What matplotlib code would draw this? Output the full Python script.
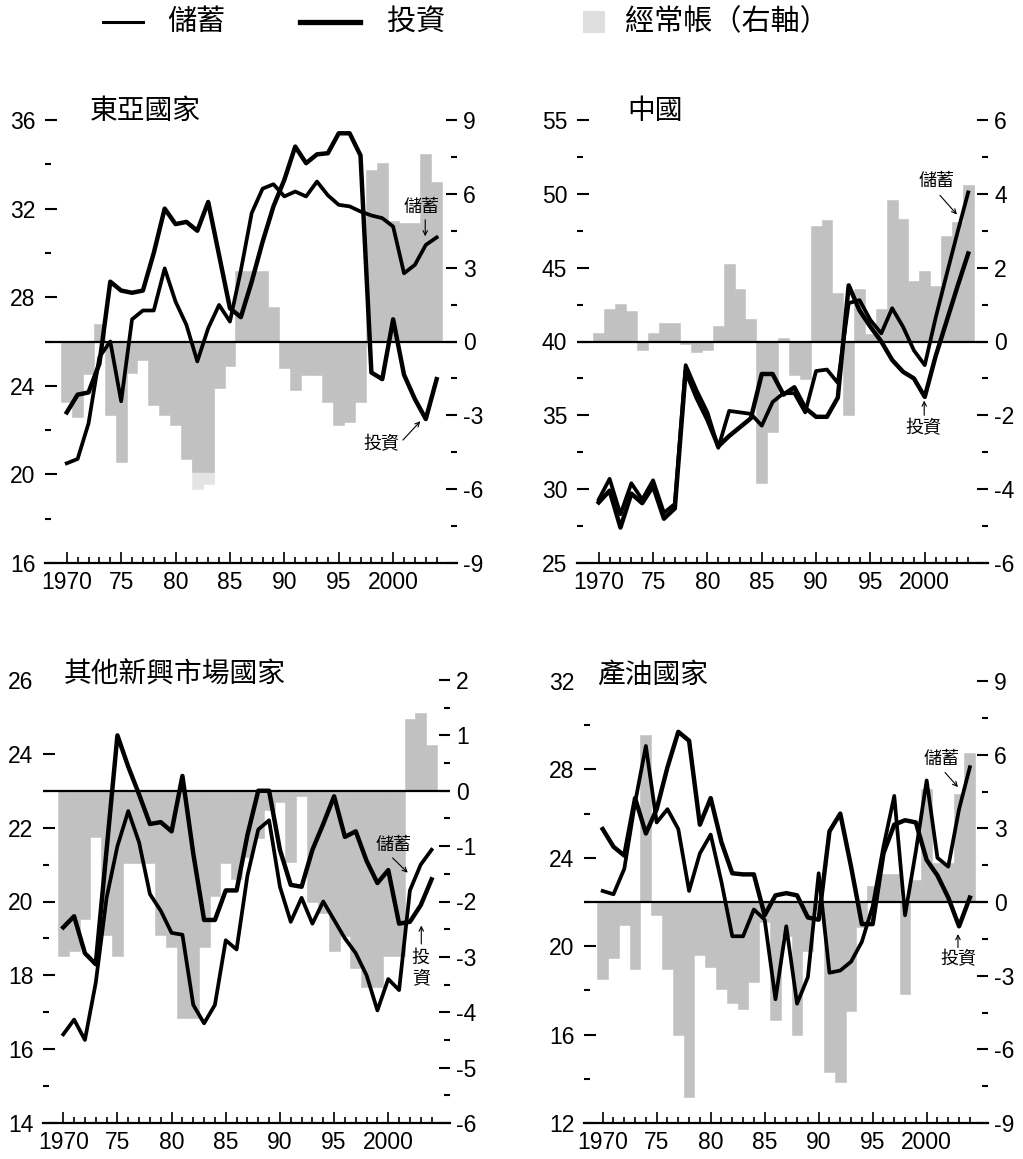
import matplotlib
matplotlib.use("Agg")
import matplotlib.pyplot as plt
from matplotlib.lines import Line2D
from matplotlib.patches import Rectangle
import numpy as np

plt.rcParams["axes.unicode_minus"] = False

CJK = ["Noto Sans CJK TC", "DejaVu Sans"]
NUM = ["Liberation Sans", "DejaVu Sans"]
BAR = "#c1c1c1"
BAR_LIGHT = "#e4e4e4"

years = np.arange(1970, 2005)

# ---- East Asia ----
ea_saving = [20.5, 20.7, 22.3, 25.3, 26.0, 23.3, 27.0, 27.4, 27.4, 29.3,
             27.8, 26.75, 25.1, 26.6, 27.65, 26.9, 29.2, 31.8, 32.9, 33.1,
             32.55, 32.77, 32.55, 33.22, 32.6, 32.17, 32.1, 31.87, 31.69, 31.57,
             31.19, 29.08, 29.46, 30.36, 30.7]
ea_invest = [22.8, 23.6, 23.7, 25.0, 28.7, 28.3, 28.2, 28.3, 30.0, 32.0,
             31.3, 31.4, 31.0, 32.3, 29.9, 27.5, 27.1, 28.7, 30.5, 32.1,
             33.3, 34.8, 34.05, 34.45, 34.5, 35.4, 35.4, 34.4, 24.6, 24.3,
             27.0, 24.5, 23.4, 22.5, 24.3]
ea_ca = [-2.47, -3.08, -1.31, 0.72, -2.98, -4.88, -1.29, -0.77, -2.6, -2.98,
         -3.39, -4.77, -5.31, -5.31, -1.88, -1.0, 2.85, 2.85, 2.85, 1.4,
         -1.08, -1.96, -1.38, -1.38, -2.47, -3.39, -3.28, -2.47, 6.95, 7.25,
         4.9, 4.8, 4.8, 7.6, 6.5]
# lighter extension below the 1982-83 bars
ea_ca_ext_years = [1982, 1983]
ea_ca_ext = [-6.0, -5.8]

# ---- China ----
cn_saving = [29.3, 30.7, 28.3, 30.4, 29.3, 30.6, 28.4, 29.0, 38.4, 36.7,
             35.2, 32.8, 35.3, 35.2, 35.1, 34.3, 35.9, 36.5, 36.5, 35.2,
             38.0, 38.1, 37.2, 42.6, 42.8, 41.45, 40.55, 42.25, 41.0, 39.4,
             38.4, 41.6, 44.5, 47.35, 50.1]
cn_invest = [29.1, 29.9, 27.4, 29.7, 29.05, 30.2, 28.0, 28.7, 38.0, 36.2,
             34.7, 32.9, 33.6, 34.2, 34.8, 37.8, 37.8, 36.4, 36.9, 35.5,
             34.9, 34.9, 36.2, 43.8, 42.1, 41.0, 40.0, 38.75, 37.95, 37.5,
             36.25, 39.0, 41.35, 43.7, 45.96]
cn_ca = [0.23, 0.89, 1.02, 0.83, -0.23, 0.23, 0.5, 0.5, -0.07, -0.29,
         -0.23, 0.42, 2.1, 1.43, 0.61, -3.84, -2.44, 0.09, -0.9, -1.01,
         3.12, 3.3, 1.31, -2.0, 1.43, 0.2, 0.89, 3.84, 3.32, 1.64,
         1.9, 1.51, 2.85, 3.23, 4.25]

# ---- Other emerging markets ----
em_saving = [16.4, 16.8, 16.25, 17.8, 20.1, 21.5, 22.45, 21.6, 20.2, 19.75,
             19.15, 19.1, 17.2, 16.7, 17.2, 18.95, 18.7, 20.7, 21.95, 22.2,
             20.4, 19.45, 20.1, 19.4, 20.0, 19.5, 19.0, 18.6, 18.0, 17.05,
             17.9, 17.6, 20.3, 21.0, 21.4]
em_invest = [19.3, 19.6, 18.6, 18.3, 21.4, 24.5, 23.65, 22.9, 22.1, 22.15,
             21.9, 23.4, 21.3, 19.5, 19.5, 20.3, 20.3, 21.8, 23.0, 23.0,
             21.4, 20.45, 20.4, 21.4, 22.1, 22.85, 21.75, 21.9, 21.1, 20.5,
             20.85, 19.4, 19.45, 19.9, 20.6]
em_ca = [-2.98, -2.9, -2.32, -0.83, -2.6, -2.98, -1.31, -1.31, -1.31, -2.6,
         -2.82, -4.1, -4.1, -2.82, -1.9, -1.31, -1.6, -1.2, -0.85, -0.35,
         -0.2, -1.28, -0.1, -2.0, -2.2, -2.9, -2.63, -3.2, -3.54, -3.54,
         -2.98, -2.98, 1.3, 1.41, 0.82]

# ---- Oil producers ----
oil_saving = [22.5, 22.35, 23.5, 26.5, 29.06, 25.6, 26.2, 25.3, 22.5, 24.2,
              25.05, 22.9, 20.45, 20.45, 21.66, 21.2, 17.6, 20.9, 17.4, 18.6,
              23.3, 18.8, 18.9, 19.3, 20.2, 21.8, 24.5, 26.8, 21.4, 24.3,
              27.5, 24.0, 23.6, 26.2, 28.1]
oil_invest = [25.3, 24.5, 24.1, 26.7, 25.1, 26.2, 28.1, 29.7, 29.3, 25.5,
              26.7, 24.7, 23.3, 23.25, 23.25, 21.4, 22.3, 22.4, 22.3, 21.3,
              21.2, 25.2, 26.0, 23.6, 21.0, 21.0, 24.2, 25.5, 25.7, 25.6,
              23.9, 23.2, 22.2, 20.9, 22.2]
oil_ca = [-3.12, -2.3, -0.95, -2.72, 6.8, -0.54, -2.72, -5.43, -7.95, -2.17,
          -2.65, -3.53, -4.1, -4.35, -3.26, -0.8, -4.82, -1.4, -5.43, -2.0,
          -0.3, -6.93, -7.34, -4.42, -1.0, 0.65, 1.15, 1.15, -3.74, 0.88,
          4.6, 1.6, 1.6, 4.39, 6.07]

xtick_pos = [1970, 1975, 1980, 1985, 1990, 1995, 2000]
xtick_lab = ["1970", "75", "80", "85", "90", "95", "2000"]

W, H = 1023, 1159
fig = plt.figure(figsize=(W / 100, H / 100), dpi=100)
fig.patch.set_facecolor("white")


def px_axes(left, top, right, bottom):
    return fig.add_axes([left / W, 1 - bottom / H, (right - left) / W, (bottom - top) / H])


def fmt(v):
    return str(int(v)) if float(v).is_integer() else str(v)


def panel(box, xlim, llim, lmaj, lmin, rlim, rmaj, rmin, saving, invest, ca,
          title, title_xy, hide_top_tick=False, extra_bars=None):
    ax = px_axes(*box)
    ax2 = ax.twinx()
    ax.set_zorder(ax2.get_zorder() + 1)
    ax.patch.set_visible(False)

    # current account bars on the right scale
    if extra_bars is not None:
        ax2.bar(extra_bars[0], extra_bars[1], width=1.0, color=BAR_LIGHT,
                edgecolor=BAR_LIGHT, linewidth=0.4, align="center", zorder=0.5)
    ax2.bar(years, ca, width=1.0, color=BAR, edgecolor=BAR, linewidth=0.4,
            align="center", zorder=1)
    ax2.axhline(0, color="black", lw=1.6, zorder=3)

    # saving / investment lines on the left scale
    ax.plot(years, saving, color="black", lw=2.7, solid_joinstyle="round")
    ax.plot(years, invest, color="black", lw=3.2, solid_joinstyle="round")

    ax.set_xlim(*xlim)
    ax.set_ylim(*llim)
    ax2.set_ylim(*rlim)

    for a in (ax, ax2):
        for s in ("left", "right", "top"):
            a.spines[s].set_visible(False)
    ax2.spines["bottom"].set_visible(False)
    ax.spines["bottom"].set_linewidth(1.6)

    ax.set_xticks(xtick_pos)
    ax.set_xticklabels(xtick_lab)
    ax.set_xticks(years, minor=True)
    ax.tick_params(axis="x", which="major", direction="in", length=8, width=1.2,
                   pad=6, labelsize=16.5)
    ax.tick_params(axis="x", which="minor", direction="in", length=4.5, width=1.2)

    ax.set_yticks(lmaj)
    ax.set_yticklabels([fmt(v) for v in lmaj])
    ax.set_yticks(lmin, minor=True)
    ax.tick_params(axis="y", which="major", direction="in", length=8.5, width=1.5,
                   pad=7, labelsize=16.5)
    ax.tick_params(axis="y", which="minor", direction="in", length=4.5, width=1.5)

    ax2.set_yticks(rmaj)
    ax2.set_yticklabels([fmt(v) for v in rmaj])
    ax2.set_yticks(rmin, minor=True)
    ax2.tick_params(axis="y", which="major", direction="in", length=8, width=1.5,
                    pad=4.5, labelsize=16.5)
    ax2.tick_params(axis="y", which="minor", direction="in", length=4.5, width=1.5)

    for lab in ax.get_xticklabels() + ax.get_yticklabels() + ax2.get_yticklabels():
        lab.set_family(NUM)

    if hide_top_tick:
        ax.yaxis.get_major_ticks()[-1].tick1line.set_visible(False)

    ax.text(title_xy[0], title_xy[1], title, family=CJK, fontsize=20,
            ha="left", va="center", clip_on=False)
    return ax


def note(ax, label, text_xy, tail, tip):
    ax.text(text_xy[0], text_xy[1], label, family=CJK, fontsize=13,
            ha="center", va="center", linespacing=1.15)
    ax.annotate("", xy=tip, xytext=tail,
                arrowprops=dict(arrowstyle="->", lw=0.8, color="black",
                                shrinkA=0, shrinkB=0, mutation_scale=8))


# East Asia
ax1 = panel((45, 120, 457, 563), (1968.0, 2005.87), (16, 36),
            [16, 20, 24, 28, 32, 36], [18, 22, 26, 30, 34],
            (-9, 9), [-9, -6, -3, 0, 3, 6, 9], [-7.5, -4.5, -1.5, 1.5, 4.5, 7.5],
            ea_saving, ea_invest, ea_ca, "東亞國家", (1972.1, 36.4),
            extra_bars=(ea_ca_ext_years, ea_ca_ext))
note(ax1, "儲蓄", (2002.6, 32.07), (2002.95, 31.5), (2002.95, 30.75))
note(ax1, "投資", (1998.9, 21.37), (2000.9, 21.55), (2002.5, 22.4))

# China
ax2_ = panel((577, 120, 988, 563), (1968.0, 2005.82), (25, 55),
             [25, 30, 35, 40, 45, 50, 55], [27.5, 32.5, 37.5, 42.5, 47.5, 52.5],
             (-6, 6), [-6, -4, -2, 0, 2, 4, 6], [-5, -3, -1, 1, 3, 5],
             cn_saving, cn_invest, cn_ca, "中國", (1972.6, 55.6))
note(ax2_, "儲蓄", (2001.1, 50.87), (2001.4, 49.9), (2002.96, 48.6))
note(ax2_, "投資", (1999.9, 34.15), (1999.95, 35.0), (1999.95, 36.0))

# Other emerging markets
ax3 = panel((43, 680, 450, 1123), (1968.13, 2005.7), (14, 26),
            [14, 16, 18, 20, 22, 24, 26], [15, 17, 19, 21, 23],
            (-6, 2), [-6, -5, -4, -3, -2, -1, 0, 1, 2],
            [-5.5, -4.5, -3.5, -2.5, -1.5, -0.5, 0.5, 1.5],
            em_saving, em_invest, em_ca, "其他新興市場國家", (1970.0, 26.14),
            hide_top_tick=True)
note(ax3, "儲蓄", (2000.5, 21.53), (2000.4, 21.18), (2001.8, 20.78))
note(ax3, "投\n資", (2003.0, 18.2), (2003.05, 18.85), (2003.05, 19.35))

# Oil producers
ax4 = panel((584, 681, 988, 1123), (1968.27, 2005.68), (12, 32),
            [12, 16, 20, 24, 28, 32], [14, 18, 22, 26, 30],
            (-9, 9), [-9, -6, -3, 0, 3, 6, 9], [-7.5, -4.5, -1.5, 1.5, 4.5, 7.5],
            oil_saving, oil_invest, oil_ca, "產油國家", (1969.5, 32.3),
            hide_top_tick=True)
note(ax4, "儲蓄", (2001.4, 28.45), (2001.7, 27.86), (2002.9, 27.2))
note(ax4, "投資", (2002.9, 19.4), (2002.9, 19.94), (2002.9, 20.55))

# Legend across the top
ly = 1 - 22 / H
fig.add_artist(Line2D([103 / W, 143 / W], [ly, ly], transform=fig.transFigure,
                      color="black", lw=2.2))
fig.text(167 / W, ly, "儲蓄", family=CJK, fontsize=21, va="center", ha="left")
fig.add_artist(Line2D([300 / W, 360 / W], [ly, ly], transform=fig.transFigure,
                      color="black", lw=3.8))
fig.text(387 / W, ly, "投資", family=CJK, fontsize=21, va="center", ha="left")
fig.add_artist(Rectangle((583 / W, 1 - 33 / H), 22 / W, 22 / H,
                         transform=fig.transFigure, facecolor="#dedede",
                         edgecolor="none"))
fig.text(625 / W, ly, "經常帳（右軸）", family=CJK, fontsize=21, va="center", ha="left")

fig.savefig("out.png", dpi=100, facecolor="white")
